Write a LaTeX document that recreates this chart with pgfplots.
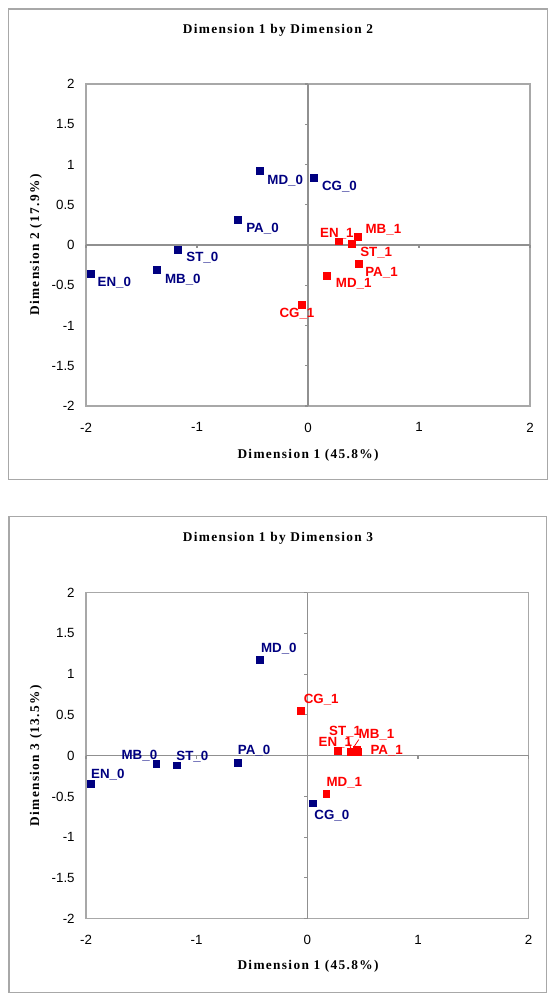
\documentclass[border=0pt]{standalone}
\usepackage{fontspec}
\setmainfont{Liberation Sans}
\newfontfamily\serifb[LetterSpace=10]{Liberation Serif}
\usepackage{pgfplots}
\pgfplotsset{compat=1.18}
\usepackage{pgfplotstable}
\definecolor{navyc}{HTML}{000080}
\definecolor{redc}{HTML}{FF0000}
\definecolor{framec}{HTML}{A8A8A8}
\definecolor{axc}{HTML}{909090}

% Dimension 1 by Dimension 2
\pgfplotstableread{
x y dx dy lab
-1.956 -0.361 4.9 -9.4 EN\_0
-1.365 -0.311 6.2 -10.1 MB\_0
-1.176 -0.054 6.5 -9.1 ST\_0
-0.630 0.311 6.0 -9.1 PA\_0
-0.434 0.920 5.5 -10.3 MD\_0
0.050 0.840 6.2 -9.6 CG\_0
}\topblue
\pgfplotstableread{
x y dx dy lab
0.276 0.046 -14.0 3.2 EN\_1
0.394 0.016 6.2 -9.6 ST\_1
0.447 0.100 5.8 2.9 MB\_1
0.454 -0.228 5.0 -9.9 PA\_1
0.171 -0.378 6.5 -9.2 MD\_1
-0.057 -0.738 -16.8 -9.9 CG\_1
}\topred
% Dimension 1 by Dimension 3
\pgfplotstableread{
x y dx dy lab
-1.956 -0.347 0.0 3.9 EN\_0
-1.365 -0.102 -26.2 3.7 MB\_0
-1.176 -0.118 -0.8 3.9 ST\_0
-0.630 -0.086 0.0 6.1 PA\_0
-0.434 1.178 1.1 5.4 MD\_0
0.050 -0.584 1.0 -12.1 CG\_0
}\botblue
\pgfplotstableread{
x y dx dy lab
-0.057 0.548 1.9 5.4 CG\_1
0.171 -0.470 0.0 5.4 MD\_1
0.276 0.062 -14.6 3.2 EN\_1
0.394 0.045 -16.5 12.1 ST\_1
0.454 0.050 9.5 -2.1 PA\_1
0.447 0.075 1.2 8.4 MB\_1
}\botred

\pgfplotsset{
  mca/.style={
    scale only axis,
    xmin=-2, xmax=2, ymin=-2, ymax=2,
    xtick={-2,-1,0,1,2},
    ytick={-2,-1.5,-1,-0.5,0,0.5,1,1.5,2},
    axis line style={framec, line width=0.9pt},
    major tick length=0pt,
    tick label style={font=\fontsize{10}{12}\selectfont, text=black},
    /pgf/number format/assume math mode=true,
    xticklabel style={yshift=-9pt},
    yticklabel style={xshift=-5pt},
    clip=false,
  },
  pts/.style={
    only marks, mark=square*, mark size=2.6pt,
    color=#1, mark options={draw=#1, fill=#1},
    nodes near coords,
    point meta=explicit symbolic,
    visualization depends on={\thisrow{dx} \as \dx},
    visualization depends on={\thisrow{dy} \as \dy},
    every node near coord/.append style={anchor=base west, inner sep=0pt,
      xshift=\dx pt, yshift=\dy pt,
      font=\fontsize{10}{12}\selectfont\bfseries, text=#1},
  },
}

\newcommand\centerlines{%
  \draw[axc, line width=0.8pt] (axis cs:0,-2) -- (axis cs:0,2);
  \draw[axc, line width=0.8pt] (axis cs:-2,0) -- (axis cs:2,0);
  \pgfplotsinvokeforeach{-2,-1.5,-1,-0.5,0.5,1,1.5,2}{
    \draw[axc, line width=0.8pt] (axis cs:0,##1) -- ++(-2.6pt,0pt);}
  \pgfplotsinvokeforeach{-2,-1,1,2}{
    \draw[axc, line width=0.8pt] (axis cs:##1,0) -- ++(0pt,-2.6pt);}
}

\begin{document}
\begin{tikzpicture}
\useasboundingbox (0pt,0pt) rectangle (418.5pt,751.5pt);
% outer frames
\draw[framec, line width=0.9pt] (6.4pt,392.0pt) rectangle (410.8pt,744.75pt);
\draw[framec, line width=0.9pt] (6.75pt,7.0pt) rectangle (410.0pt,364.0pt);

% ---- top chart
\node[font=\serifb\bfseries\fontsize{10}{12}\selectfont] at (208.5pt,729pt) {Dimension 1 by Dimension 2};
\node[font=\serifb\bfseries\fontsize{10}{12}\selectfont] at (231pt,410.25pt) {Dimension 1 (45.8\%)};
\node[font=\serifb\bfseries\fontsize{10}{12}\selectfont, rotate=90] at (27pt,567.75pt) {Dimension 2 (17.9\%)};
\begin{axis}[mca, at={(64.5pt,447pt)}, anchor=south west, width=333pt, height=241.5pt]
\centerlines
\addplot[pts=navyc] table[x=x, y=y, meta=lab] {\topblue};
\addplot[pts=redc] table[x=x, y=y, meta=lab] {\topred};
\end{axis}

% ---- bottom chart
\node[font=\serifb\bfseries\fontsize{10}{12}\selectfont] at (208.5pt,347.8pt) {Dimension 1 by Dimension 3};
\node[font=\serifb\bfseries\fontsize{10}{12}\selectfont] at (231pt,26.5pt) {Dimension 1 (45.8\%)};
\node[font=\serifb\bfseries\fontsize{10}{12}\selectfont, rotate=90] at (27pt,184.7pt) {Dimension 3 (13.5\%)};
\begin{axis}[mca, at={(64.5pt,62.5pt)}, anchor=south west, width=332pt, height=244.5pt]
\centerlines
\addplot[pts=navyc] table[x=x, y=y, meta=lab] {\botblue};
\addplot[pts=redc] table[x=x, y=y, meta=lab] {\botred};
\draw[redc, line width=0.6pt] (axis cs:0.394,0.045) ++(0pt,2.5pt) -- ++(-2.4pt,8pt);
\draw[redc, line width=0.6pt] (axis cs:0.447,0.075) ++(-2.5pt,1.5pt) -- ++(4pt,6pt);
\end{axis}
\end{tikzpicture}
\end{document}
